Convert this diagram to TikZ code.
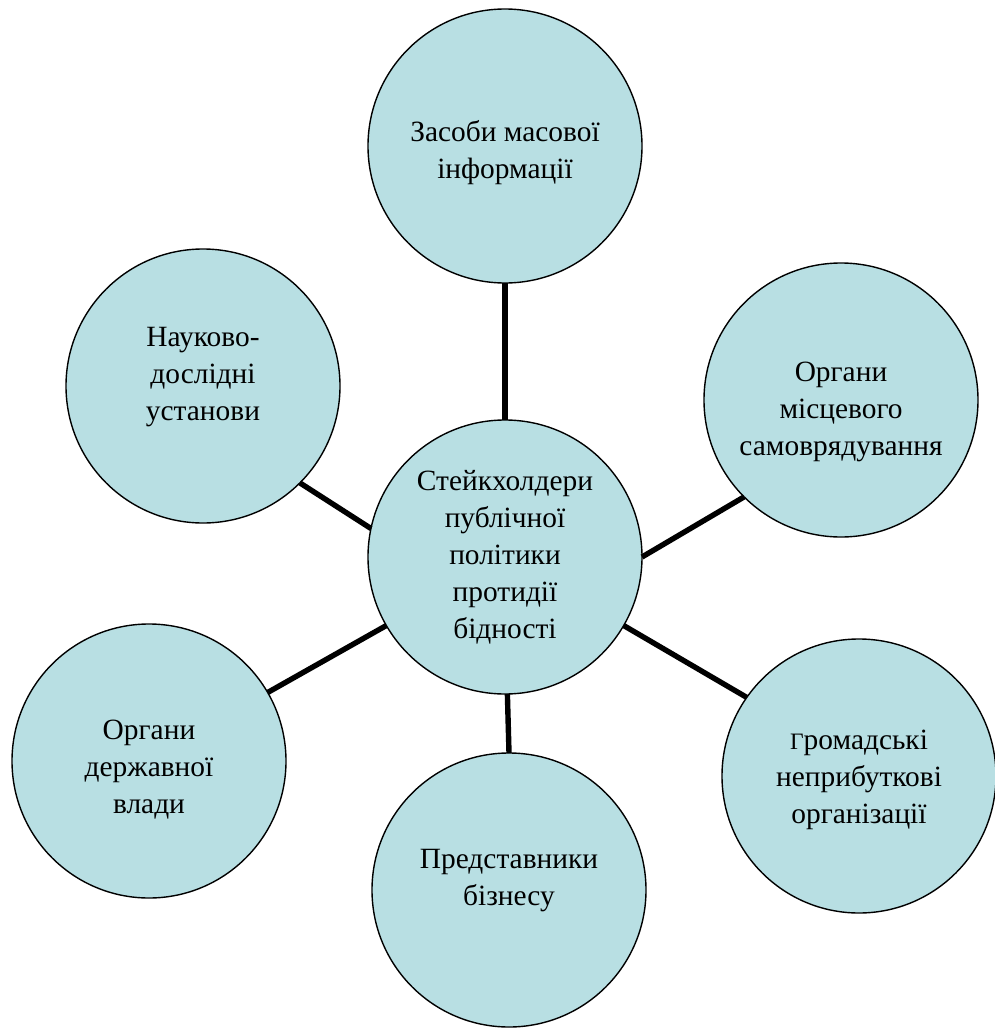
\documentclass[tikz,border=0pt]{standalone}
\usepackage{fontspec}
\setmainfont{Liberation Serif}
\definecolor{circfill}{RGB}{184,223,227}
\begin{document}
\begin{tikzpicture}[x=0.5pt,y=-0.5pt,
  stake/.style={circle,draw=black,line width=0.7pt,fill=circfill,
    minimum size=137pt,inner sep=0pt,outer sep=0pt},
  txt/.style={align=center,inner sep=0pt,font=\fontsize{14.7}{18.5}\selectfont},
  link/.style={line width=2.7pt,draw=black}]
\useasboundingbox (0,0) rectangle (995,1028);
\node[stake,label={[txt,yshift=-3.5pt]center:Засоби масової\\інформації}] (T) at (505,146) {};
\node[stake,label={[txt,yshift=0pt]center:Стейкхолдери\\публічної\\політики\\протидії\\бідності}] (C) at (505,557) {};
\node[stake,label={[txt,yshift=4.5pt]center:Науково-\\дослідні\\установи}] (LT) at (203,386) {};
\node[stake,label={[txt,yshift=-6pt]center:Органи\\місцевого\\самоврядування}] (RT) at (841,400) {};
\node[stake,label={[txt,yshift=-4.5pt]center:Органи\\державної\\влади}] (LB) at (149,761) {};
\node[stake,label={[txt,yshift=4.5pt]center:Представники\\бізнесу}] (B) at (509,890) {};
\node[stake,label={[txt,yshift=-2pt]center:{\scalebox{0.8}{Г}}ромадські\\неприбуткові\\організації}] (RB) at (859,776) {};
\draw[link] (T.-90) -- (C.90);
\draw[link] (LT.-45) -- (C.168);
\draw[link] (RT.225) -- (C.0);
\draw[link] (RB.145) -- (C.-30);
\draw[link] (LB.30) -- (C.210);
\draw[link] (B.90) -- (C.-89);
\end{tikzpicture}
\end{document}
